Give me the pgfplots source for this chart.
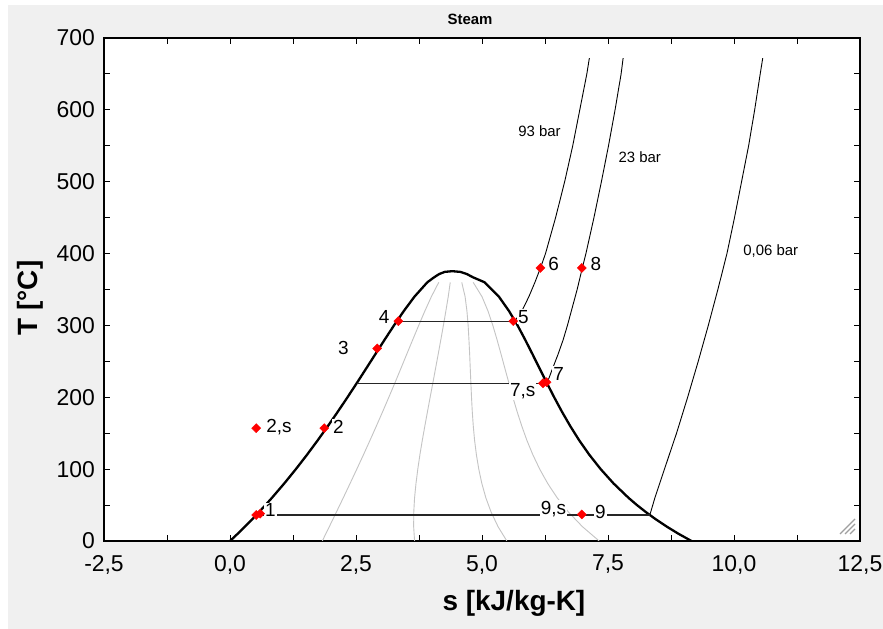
\documentclass[border=0pt]{standalone}
\usepackage{pgfplots}
\pgfplotsset{compat=1.18}
\usepackage{fontspec}
\setmainfont{Liberation Sans}

\definecolor{winbg}{HTML}{F0F0F0}
\definecolor{qualgray}{HTML}{C4C4C4}
\definecolor{ptred}{HTML}{FF0000}

\newcommand{\ptlabel}{\fontsize{19}{19}\selectfont}
\newcommand{\barlabel}{\fontsize{15}{15}\selectfont}

\begin{document}
\begin{tikzpicture}
\path[use as bounding box] (0,0) rectangle (883bp,629bp);
\fill[white] (0,0) rectangle (883bp,629bp);
\fill[winbg] (8bp,0) rectangle (883bp,624bp);

\begin{axis}[
  at={(104bp,88bp)}, anchor=south west,
  scale only axis, width=756bp, height=503bp,
  xmin=-2.5, xmax=12.5, ymin=0, ymax=700,
  axis background/.style={fill=white},
  axis line style={line width=1.3bp, black},
  xtick={-2.5,0,2.5,5,7.5,10,12.5},
  minor xtick={-1.25,1.25,3.75,6.25,8.75,11.25},
  ytick={0,100,200,300,400,500,600,700},
  minor ytick={50,150,250,350,450,550,650},
  tick align=inside,
  major tick length=6bp, minor tick length=6bp,
  every tick/.style={black, line width=1bp},
  minor tick style={black, line width=1bp},
  xticklabels={{-2,5},{0,0},{2,5},{5,0},{7,5},{10,0},{12,5}},
  yticklabels={0,100,200,300,400,500,600,700},
  ticklabel style={font=\fontsize{23}{23}\selectfont},
  xticklabel style={inner sep=0pt, yshift=-14bp},
  yticklabel style={inner sep=0pt, xshift=-9bp},
]

% lines of constant quality x = 0.2, 0.4, 0.6, 0.8
\addplot[qualgray, line width=0.9bp] coordinates {
 (1.831,0) (1.971,20) (2.109,40) (2.247,60) (2.382,80) (2.516,100) (2.648,120)
 (2.777,140) (2.904,160) (3.029,180) (3.151,200) (3.272,220) (3.390,240)
 (3.507,260) (3.625,280) (3.744,300) (3.866,320) (3.995,340) (4.142,360)};
\addplot[qualgray, line width=0.9bp] coordinates {
 (3.662,0) (3.644,20) (3.646,40) (3.662,60) (3.690,80) (3.726,100) (3.768,120)
 (3.815,140) (3.866,160) (3.918,180) (3.971,200) (4.025,220) (4.078,240)
 (4.131,260) (4.183,280) (4.234,300) (4.283,320) (4.330,340) (4.370,360)};
\addplot[qualgray, line width=0.9bp] coordinates {
 (5.493,0) (5.318,20) (5.182,40) (5.077,60) (4.997,80) (4.936,100) (4.889,120)
 (4.853,140) (4.827,160) (4.807,180) (4.792,200) (4.779,220) (4.767,240)
 (4.755,260) (4.741,280) (4.725,300) (4.701,320) (4.665,340) (4.598,360)};
\addplot[qualgray, line width=0.9bp] coordinates {
 (7.325,0) (6.992,20) (6.719,40) (6.493,60) (6.304,80) (6.145,100) (6.009,120)
 (5.891,140) (5.789,160) (5.697,180) (5.612,200) (5.533,220) (5.455,240)
 (5.378,260) (5.299,280) (5.215,300) (5.119,320) (5.000,340) (4.825,360)};

% saturation dome
\addplot[black, line width=2.3bp, line join=round] coordinates {
 (0,0.01) (0.151,10) (0.2965,20) (0.4368,30) (0.5724,40) (0.7038,50) (0.8313,60)
 (1.0753,80) (1.3069,100) (1.5278,120) (1.7391,140) (1.9427,160) (2.1396,180)
 (2.3305,200) (2.5179,220) (2.7015,240) (2.8838,260) (3.0668,280) (3.2534,300)
 (3.4480,320) (3.6594,340) (3.9147,360) (4.05,367) (4.15,371.5) (4.26,374.5)
 (4.41,375.5) (4.57,374.5) (4.70,371.5) (4.82,367) (5.0526,360) (5.3357,340)
 (5.5362,320) (5.7059,300) (5.8571,280) (6.0019,260) (6.1437,240) (6.2861,220)
 (6.4323,200) (6.5857,180) (6.7502,160) (6.9294,140) (7.1292,120) (7.3549,100)
 (7.6111,80) (7.9081,60) (8.0748,50) (8.2557,40) (8.4520,30) (8.6661,20)
 (8.8999,10) (9.1556,0.01)};

% isobars in the superheated region
\addplot[black, line width=0.9bp] coordinates {
 (5.65,306) (5.79,320) (5.93,340) (6.05,360) (6.16,380) (6.26,400) (6.46,450)
 (6.64,500) (6.80,550) (6.94,600) (7.08,650) (7.13,672)};
\addplot[black, line width=0.9bp] coordinates {
 (6.29,219.6) (6.40,240) (6.51,260) (6.61,280) (6.695,300) (6.888,350)
 (6.99,380) (7.062,400) (7.221,450) (7.369,500) (7.51,550) (7.640,600)
 (7.76,650) (7.80,672)};
\addplot[black, line width=0.9bp] coordinates {
 (8.33,36.2) (8.43,60) (8.62,100) (8.86,150) (9.08,200) (9.29,250) (9.49,300)
 (9.68,350) (9.86,400) (10.01,450) (10.15,500) (10.29,550) (10.41,600)
 (10.52,650) (10.57,672)};

% isobars across the two-phase region
\addplot[black!85, line width=1.2bp] coordinates {(3.34,306) (5.65,306)};
\addplot[black!85, line width=1.2bp] coordinates {(2.52,219.6) (6.29,219.6)};
\addplot[black!85, line width=1.2bp] coordinates {(0.52,36.2) (8.33,36.2)};

% state points
\addplot[only marks, mark=square*, mark size=3.2bp,
  mark options={fill=ptred, draw=ptred, rotate=45}] coordinates {
 (0.52,36.2) (0.60,38) (0.52,157) (1.87,157) (2.92,268) (3.34,306) (5.62,306)
 (6.16,380) (6.98,380) (6.21,219.5) (6.28,221) (6.98,37)};

% state labels
\begin{scope}[every node/.style={fill=white, inner sep=1bp, text=black, font=\ptlabel}]
\node at (axis cs:0.80,43) {1};
\node at (axis cs:0.97,159) {2,s};
\node at (axis cs:2.15,159) {2};
\node at (axis cs:2.25,269) {3};
\node at (axis cs:3.06,312) {4};
\node at (axis cs:5.82,312) {5};
\node at (axis cs:6.42,385) {6};
\node at (axis cs:7.26,386) {8};
\node at (axis cs:6.52,233) {7};
\node at (axis cs:5.81,208) {7,s};
\node at (axis cs:6.42,45) {9,s};
\node at (axis cs:7.35,40) {9};
\end{scope}
\begin{scope}[every node/.style={fill=white, inner sep=1bp, text=black, font=\barlabel}]
\node at (axis cs:6.14,570) {93 bar};
\node at (axis cs:8.13,534) {23 bar};
\node at (axis cs:10.73,404) {0,06 bar};
\end{scope}
\end{axis}

% title and axis titles
\node[font=\bfseries\fontsize{15}{15}\selectfont] at (470bp,610bp) {Steam};
\node[font=\bfseries\fontsize{28}{28}\selectfont] at (514bp,26bp) {s [kJ/kg-K]};
\node[font=\bfseries\fontsize{28}{28}\selectfont, rotate=90] at (30bp,331bp) {T [°C]};

% window size grip
\foreach \L in {5,10,15}
  \draw[gray!75, line width=1.3bp] (855bp-\L bp,95bp) -- (855bp,95bp+\L bp);
\end{tikzpicture}
\end{document}
